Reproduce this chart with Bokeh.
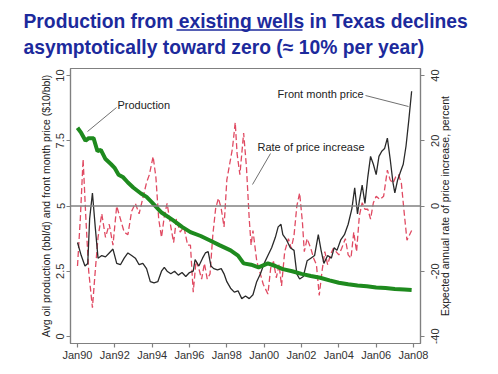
import math
from bokeh.plotting import figure
from bokeh.layouts import column, row
from bokeh.models import Range1d, LinearAxis, FixedTicker, Span, Label
from bokeh.core.properties import value
from bokeh.embed import file_html
from bokeh.resources import INLINE

# ---------------- data ----------------
tick_years = [1990, 1992, 1994, 1996, 1998, 2000, 2002, 2004, 2006, 2008]
tick_labels = ["Jan90", "Jan92", "Jan94", "Jan96", "Jan98", "Jan00", "Jan02", "Jan04", "Jan06", "Jan08"]
left_ticks = [0, 2.5, 5, 7.5, 10]
left_tick_labels = ["0", "2.5", "5", "7.5", "10"]
right_ticks = [-40, -20, 0, 20, 40]
right_tick_labels = ["-40", "-20", "0", "20", "40"]

prod_t = [1990.0, 1990.2, 1990.43, 1990.6, 1990.86, 1991.07, 1991.25, 1991.5, 1991.8, 1992.0, 1992.2,
          1992.45, 1992.7, 1993.0, 1993.4, 1993.7, 1994.0, 1994.5, 1995.15, 1995.6, 1996.05, 1996.6,
          1997.1, 1997.6, 1998.2, 1998.6, 1998.9, 1999.3, 1999.7, 2000.2, 2000.6, 2001.0, 2001.5,
          2002.0, 2002.5, 2003.0, 2003.5, 2004.0, 2004.5, 2005.0, 2005.5, 2006.0, 2006.5, 2007.0,
          2007.5, 2007.9]
prod_v = [8.0, 7.8, 7.5, 7.6, 7.6, 7.1, 7.15, 6.8, 6.6, 6.45, 6.2,
          6.1, 5.9, 5.7, 5.48, 5.35, 5.13, 4.75, 4.44, 4.2, 4.0, 3.85,
          3.68, 3.5, 3.3, 3.1, 2.8, 2.75, 2.65, 2.8, 2.7, 2.58, 2.5,
          2.4, 2.32, 2.25, 2.15, 2.06, 2.0, 1.95, 1.92, 1.88, 1.86, 1.82,
          1.8, 1.78]

price_t = [1990.0, 1990.2, 1990.4, 1990.55, 1990.65, 1990.8, 1990.95, 1991.1, 1991.3, 1991.5, 1991.7,
           1991.9, 1992.1, 1992.3, 1992.5, 1992.7, 1992.9, 1993.1, 1993.3, 1993.5, 1993.7, 1993.9,
           1994.1, 1994.3, 1994.5, 1994.65, 1994.8, 1995.0, 1995.2, 1995.4, 1995.6, 1995.8, 1996.0,
           1996.2, 1996.3, 1996.5, 1996.7, 1996.85, 1997.0, 1997.15, 1997.3, 1997.5, 1997.7, 1997.85,
           1998.0, 1998.2, 1998.4, 1998.6, 1998.8, 1999.0, 1999.2, 1999.4, 1999.6, 1999.8, 2000.0,
           2000.2, 2000.4, 2000.6, 2000.75, 2000.9, 2001.0, 2001.2, 2001.4, 2001.6, 2001.75, 2001.9,
           2002.1, 2002.3, 2002.5, 2002.7, 2002.9, 2003.05, 2003.2, 2003.4, 2003.6, 2003.75, 2003.9,
           2004.1, 2004.3, 2004.5, 2004.7, 2004.85, 2005.0, 2005.1, 2005.25, 2005.4, 2005.55, 2005.7,
           2005.85, 2006.0, 2006.15, 2006.3, 2006.45, 2006.6, 2006.75, 2006.9, 2007.0, 2007.15, 2007.3,
           2007.45, 2007.6, 2007.75, 2007.9]
price_v = [3.6, 3.1, 2.7, 2.8, 4.5, 5.5, 4.2, 3.0, 3.1, 3.05, 3.2,
           3.35, 2.8, 2.75, 3.0, 3.2, 3.1, 3.0, 2.75, 2.8, 2.6, 2.1,
           2.05, 2.1, 2.5, 2.65, 2.5, 2.4, 2.5, 2.35, 2.45, 2.3, 2.45,
           2.5, 2.95, 2.7, 3.0, 3.2, 3.25, 2.7, 2.6, 2.55, 2.6, 2.4,
           2.1, 1.85, 1.7, 1.75, 1.45, 1.55, 1.45, 1.6, 2.1, 2.4, 2.8,
           3.1, 3.4, 3.8, 4.2, 4.3, 3.9, 3.7, 3.4, 3.3, 2.4, 2.2,
           2.3, 2.9, 3.0, 3.1, 3.9, 3.3, 2.8, 3.1, 3.0, 3.4, 3.3,
           3.7, 3.9, 4.3, 4.9, 5.7, 4.7, 5.2, 5.8, 5.1, 6.1, 6.9,
           6.6, 6.2, 6.9, 7.1, 7.2, 7.6, 6.8, 5.9, 5.5, 6.0, 6.3,
           6.6, 7.3, 8.3, 9.4]

rate_t = [1990.0, 1990.15, 1990.3, 1990.45, 1990.6, 1990.8, 1990.95, 1991.1, 1991.3, 1991.5, 1991.7,
          1991.9, 1992.1, 1992.3, 1992.5, 1992.7, 1992.9, 1993.1, 1993.3, 1993.5, 1993.7, 1993.85,
          1994.05, 1994.2, 1994.35, 1994.5, 1994.65, 1994.8, 1995.0, 1995.15, 1995.3, 1995.5, 1995.7,
          1995.9, 1996.05, 1996.2, 1996.35, 1996.5, 1996.65, 1996.8, 1996.95, 1997.1, 1997.25, 1997.4,
          1997.55, 1997.7, 1997.85, 1998.0, 1998.15, 1998.3, 1998.45, 1998.55, 1998.7, 1998.9, 1999.05,
          1999.2, 1999.3, 1999.4, 1999.6, 1999.95, 2000.2, 2000.35, 2000.5, 2000.65, 2000.8, 2000.93,
          2001.1, 2001.3, 2001.45, 2001.6, 2001.75, 2001.9, 2002.05, 2002.15, 2002.3, 2002.5, 2002.65,
          2002.8, 2002.95, 2003.1, 2003.25, 2003.4, 2003.55, 2003.7, 2003.85, 2004.0, 2004.15, 2004.35,
          2004.5, 2004.65, 2004.8, 2004.95, 2005.1, 2005.25, 2005.4, 2005.55, 2005.7, 2005.85, 2006.0,
          2006.2, 2006.4, 2006.6, 2006.75, 2006.9, 2007.05, 2007.2, 2007.35, 2007.5, 2007.65, 2007.9]
rate_v = [-18.4, -4, 14.4, -4, -20, -31.2, -20, -9.6, -2.4, -9.6, -5.6,
          -12, 0, -4, -8, -8.8, -1.6, 0.8, -2.4, 2.4, 7.2, 9.6,
          15.2, 8.8, -4, -9.6, -3.2, 0.8, -6.4, -11.2, -4, -8, -6.4,
          -12, -12, -26.4, -16.8, -19.2, -22.4, -17.6, -22.4, -20.8, -8.8, -0.8,
          2.4, -0.8, -6.4, 8, 12.8, 17.6, 25.6, 16, 9.6, 22.4, 12,
          -4, -12, -7.5, -16.8, -24, -27, -19, -17, -22, -18, -24.5,
          -14, -10, -13, -9, 0, 4, -5, -14, -10, -13, -16,
          -18, -27.4, -20, -14, -18, -15, -13, -14, -15, -13, -10,
          -15, -16, -8, -14, -3, 1, -1, -1, -4, 1, 3,
          2, 3, 11, 8, 7, 9, 9.6, 7, -2, -10.5, -7.5]

title_lines = ["Production from existing wells in Texas declines",
               "asymptotically toward zero (\u2248 10% per year)"]
left_title = "Avg oil production (bbl/d) and front month price ($10/bbl)"
right_title = "Expected annual rate of price increase, percent"

# ---------------- geometry (page pixels) ----------------
PAGE_W = 498
TITLE_H = 62
FRAME_L, FRAME_R, FRAME_T, FRAME_B = 70, 420, 68, 343
RIGHT_BORDER = 10          # room for the right-axis ticks and the "Jan08" label
BOTTOM_BORDER = 26
X0, X1 = 1989.625, 2008.375
Y0, Y1 = -0.27, 10.27
R0, R1 = -42.16, 42.16


def dx(px):
    return X0 + (px - FRAME_L) / (FRAME_R - FRAME_L) * (X1 - X0)


def dy(py):
    return Y0 + (FRAME_B - py) / (FRAME_B - FRAME_T) * (Y1 - Y0)


FONT = "Liberation Sans"
TITLE_COLOR = "#1c2a9c"
AXIS_GRAY = "#808080"
TEXT_COLOR = "#333333"

# ---------------- title strip ----------------
t = figure(frame_width=PAGE_W, frame_height=TITLE_H, min_border=0, title=None,
           x_range=Range1d(0, PAGE_W), y_range=Range1d(TITLE_H, 0),
           output_backend="svg", toolbar_location=None,
           background_fill_color="white", border_fill_color="white")
t.axis.visible = False
t.grid.visible = False
t.outline_line_color = None
t.text(x=[23, 23], y=[20.5, 46.5], text=title_lines, text_font=value(FONT), text_font_size="19.3px",
       text_font_style="bold", text_color=TITLE_COLOR, text_baseline="middle", text_align="left")
t.segment(x0=[176], y0=[29.5], x1=[302], y1=[29.5], line_color=TITLE_COLOR, line_width=1.6)

# ---------------- main chart ----------------
p = figure(frame_width=FRAME_R - FRAME_L, frame_height=FRAME_B - FRAME_T,
           min_border_left=FRAME_L, min_border_top=FRAME_T - TITLE_H,
           min_border_right=RIGHT_BORDER, min_border_bottom=BOTTOM_BORDER,
           x_range=Range1d(X0, X1), y_range=Range1d(Y0, Y1),
           output_backend="svg", toolbar_location=None,
           background_fill_color="white", border_fill_color="white")
p.extra_y_ranges = {"pct": Range1d(R0, R1)}
p.xgrid.visible = False
p.ygrid.visible = False
p.outline_line_color = AXIS_GRAY
p.outline_line_width = 1.2

xa = p.xaxis[0]
xa.ticker = FixedTicker(ticks=tick_years)
xa.major_label_overrides = {y: l for y, l in zip(tick_years, tick_labels)}

ya = p.yaxis[0]
ya.ticker = FixedTicker(ticks=left_ticks)
ya.major_label_overrides = {v: l for v, l in zip(left_ticks, left_tick_labels)}
ya.major_label_orientation = "parallel"
ya.axis_label = left_title

# right axis: tick marks only (its labels are drawn centred, reading upward, in the side strip)
ra = LinearAxis(y_range_name="pct", ticker=FixedTicker(ticks=right_ticks))
p.add_layout(ra, "right")

for ax in (xa, ya, ra):
    ax.minor_tick_line_color = None
    ax.axis_line_color = AXIS_GRAY
    ax.axis_line_width = 1.2
    ax.major_tick_line_color = AXIS_GRAY
    ax.major_tick_line_width = 1.2
    ax.major_tick_out = 4
    ax.major_tick_in = 0
    ax.major_label_text_font = FONT
    ax.major_label_text_font_size = "11px"
    ax.major_label_text_color = TEXT_COLOR
    ax.major_label_standoff = 2
    ax.axis_label_text_font = FONT
    ax.axis_label_text_font_size = "10.5px"
    ax.axis_label_text_font_style = "normal"
    ax.axis_label_text_color = "#222222"
    ax.axis_label_standoff = 2
xa.major_label_standoff = 1
ra.major_label_text_color = None
ra.major_label_standoff = 0

p.add_layout(Span(location=0, dimension="width", y_range_name="pct",
                  line_color=AXIS_GRAY, line_width=1.5))

p.line(rate_t, rate_v, y_range_name="pct", line_color="#e04a62", line_width=1.3, line_dash="6 3")
p.line(price_t, price_v, line_color="#2a2a2a", line_width=1.3)
p.line(prod_t, prod_v, line_color="#1e8a1e", line_width=4)

lead = "#707070"
p.line([dx(116), dx(87)], [dy(107), dy(131)], line_color=lead, line_width=1)
p.line([dx(365), dx(408)], [dy(95), dy(106)], line_color=lead, line_width=1)
p.line([dx(270), dx(252)], [dy(153), dy(184)], line_color=lead, line_width=1)

for txt, px, py in [("Production", 117, 104), ("Front month price", 277, 93),
                    ("Rate of price increase", 257, 146)]:
    p.add_layout(Label(x=dx(px), y=dy(py), text=txt, text_font=FONT, text_font_size="11px",
                       text_color="#222222", text_baseline="middle", text_align="left"))

# ---------------- right strip: right-axis tick labels and title ----------------
STRIP_L = FRAME_R + RIGHT_BORDER
r = figure(frame_width=PAGE_W - STRIP_L, frame_height=FRAME_B - FRAME_T,
           min_border_left=0, min_border_right=0,
           min_border_top=FRAME_T - TITLE_H, min_border_bottom=BOTTOM_BORDER,
           x_range=Range1d(STRIP_L, PAGE_W), y_range=Range1d(R0, R1),
           output_backend="svg", toolbar_location=None,
           background_fill_color="white", border_fill_color="white")
r.axis.visible = False
r.grid.visible = False
r.outline_line_color = None
n = len(right_ticks)
r.text(x=[434] * n, y=right_ticks, text=right_tick_labels, angle=math.pi / 2,
       text_font=value(FONT), text_font_size="11px", text_color=TEXT_COLOR,
       text_align="center", text_baseline="middle")
r.text(x=[444.5], y=[(R0 + R1) / 2], text=[right_title], angle=math.pi / 2,
       text_font=value(FONT), text_font_size="10.5px", text_color="#222222",
       text_align="center", text_baseline="middle")

layout = column(row(t), row(p, r, spacing=0), spacing=0)
open("out.html", "w").write(file_html(layout, INLINE))
